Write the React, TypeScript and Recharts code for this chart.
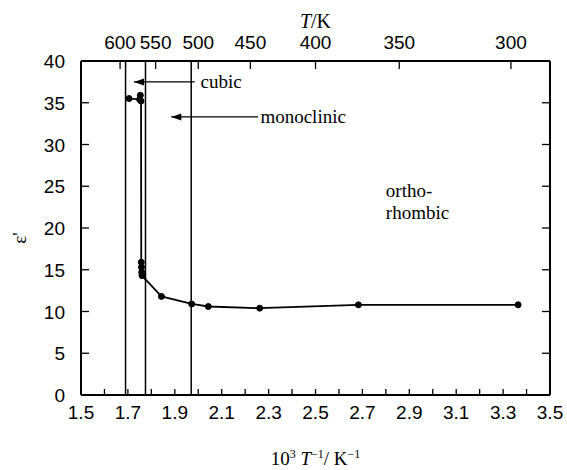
import React from 'react';
import { ComposedChart, Line, XAxis, YAxis, ReferenceLine, ReferenceDot, Label } from 'recharts';

// 10^3 / T values and permittivity
const invT = [1.705, 1.75, 1.753, 1.756, 1.757, 1.758, 1.759, 1.76, 1.843, 1.972, 2.043, 2.262, 2.683, 3.364];
const epsilon = [35.5, 35.4, 35.9, 35.2, 15.9, 15.3, 14.7, 14.3, 11.8, 10.9, 10.6, 10.4, 10.8, 10.8];

const xTicks = [1.5, 1.6, 1.7, 1.8, 1.9, 2.0, 2.1, 2.2, 2.3, 2.4, 2.5, 2.6, 2.7, 2.8, 2.9, 3.0, 3.1, 3.2, 3.3, 3.4, 3.5];
const xLabels = ['1.5', '1.7', '1.9', '2.1', '2.3', '2.5', '2.7', '2.9', '3.1', '3.3', '3.5'];
const yTicks = [0, 5, 10, 15, 20, 25, 30, 35, 40];
const tempLabels = [600, 550, 500, 450, 400, 350, 300];

// phase boundaries (10^3 / T)
const phaseBounds = [1.69, 1.775, 1.97];

// annotation arrows: tail x, head x, level, text
const arrowTail = [1.985, 2.255];
const arrowHead = [1.726, 1.885];
const arrowLevel = [37.5, 33.3];
const arrowText = ['cubic', 'monoclinic'];
const arrowTextX = [2.01, 2.265];

const regionText = ['ortho-', 'rhombic'];
const regionTextX = 2.8;
const regionTextY = [24.5, 21.8];

const data = invT.map((x, i) => ({ x, y: epsilon[i] }));
const topTicks = tempLabels.map((t) => 1000 / t);

const SANS = '"Liberation Sans", Arial, sans-serif';
const SERIF = '"Liberation Serif", "Times New Roman", serif';

const BottomTick = (props: any) => {
  const { x, y, payload } = props;
  const label = xLabels.find((l) => Math.abs(parseFloat(l) - payload.value) < 1e-6);
  return (
    <g>
      <line x1={x} x2={x} y1={y} y2={y - 6} stroke="#000" strokeWidth={1.3} />
      {label && (
        <text x={x} y={y + 24} textAnchor="middle" fontFamily={SANS} fontSize={19} fill="#000">
          {label}
        </text>
      )}
    </g>
  );
};

const TopTick = (props: any) => {
  const { x, y, payload } = props;
  return (
    <g>
      <line x1={x} x2={x} y1={y} y2={y + 8} stroke="#000" strokeWidth={1.3} />
      <text x={x} y={y - 12} textAnchor="middle" fontFamily={SANS} fontSize={19} fill="#000">
        {Math.round(1000 / payload.value)}
      </text>
    </g>
  );
};

const LeftTick = (props: any) => {
  const { x, y, payload } = props;
  return (
    <g>
      <line x1={x} x2={x + 8} y1={y} y2={y} stroke="#000" strokeWidth={1.3} />
      <text x={x - 16} y={y + 7} textAnchor="end" fontFamily={SANS} fontSize={19} fill="#000">
        {payload.value}
      </text>
    </g>
  );
};

const RightTick = (props: any) => {
  const { x, y } = props;
  return <line x1={x} x2={x - 8} y1={y} y2={y} stroke="#000" strokeWidth={1.3} />;
};

const ArrowHead = (props: any) => {
  const { cx, cy } = props;
  return <path d={`M${cx},${cy} l10,-3.5 l0,7 z`} fill="#000" />;
};

const makeText = (text: string) => (props: any) => (
  <text x={props.cx} y={props.cy} dy="0.32em" fontFamily={SERIF} fontSize={19} fill="#000">
    {text}
  </text>
);

const axisLine = { stroke: '#000', strokeWidth: 2 };

export default function App() {
  return (
    <div style={{ position: 'absolute', left: 0, top: 0, width: 567, height: 470, background: '#fff' }}>
      <ComposedChart width={567} height={470} data={data} margin={{ top: 0, right: 0, bottom: 0, left: 0 }}>
        <XAxis
          xAxisId="bottom"
          dataKey="x"
          type="number"
          domain={[1.5, 3.5]}
          ticks={xTicks}
          interval={0}
          height={75}
          tickSize={0}
          tickMargin={0}
          tickLine={false}
          axisLine={axisLine}
          tick={BottomTick}
          allowDataOverflow
        >
          <Label
            content={(p: any) => {
              const vb = p.viewBox;
              return (
                <text x={vb.x + vb.width / 2} y={vb.y + 70} textAnchor="middle" fontFamily={SERIF} fontSize={19} fill="#000">
                  10<tspan dy={-7} fontSize={12}>3</tspan>
                  <tspan dy={7}> </tspan>
                  <tspan fontStyle="italic">T</tspan>
                  <tspan dy={-7} fontSize={12}>−1</tspan>
                  <tspan dy={7}>/ K</tspan>
                  <tspan dy={-7} fontSize={12}>−1</tspan>
                </text>
              );
            }}
          />
        </XAxis>
        <XAxis
          xAxisId="top"
          dataKey="x"
          orientation="top"
          type="number"
          domain={[1.5, 3.5]}
          ticks={topTicks}
          interval={0}
          height={61}
          tickSize={0}
          tickMargin={0}
          tickLine={false}
          axisLine={axisLine}
          tick={TopTick}
          allowDataOverflow
        >
          <Label
            content={(p: any) => {
              const vb = p.viewBox;
              return (
                <text x={vb.x + vb.width / 2} y={28} textAnchor="middle" fontFamily={SERIF} fontSize={20} fill="#000">
                  <tspan fontStyle="italic">T</tspan>/K
                </text>
              );
            }}
          />
        </XAxis>
        <YAxis
          yAxisId="left"
          type="number"
          domain={[0, 40]}
          ticks={yTicks}
          interval={0}
          width={81}
          tickSize={0}
          tickMargin={0}
          tickLine={false}
          axisLine={axisLine}
          tick={LeftTick}
          allowDataOverflow
        >
          <Label
            content={(p: any) => {
              const vb = p.viewBox;
              const cx = 20;
              const cy = vb.y + vb.height / 2 + 10;
              return (
                <text x={cx} y={cy} textAnchor="middle" dy="0.32em" transform={`rotate(-90 ${cx} ${cy})`} fontFamily={SERIF} fontSize={19} fill="#000">
                  ε'
                </text>
              );
            }}
          />
        </YAxis>
        <YAxis
          yAxisId="right"
          orientation="right"
          type="number"
          domain={[0, 40]}
          ticks={yTicks}
          interval={0}
          width={17}
          tickSize={0}
          tickMargin={0}
          tickLine={false}
          axisLine={axisLine}
          tick={RightTick}
          allowDataOverflow
        />

        {phaseBounds.map((v) => (
          <ReferenceLine key={v} xAxisId="bottom" yAxisId="left" x={v} stroke="#000" strokeWidth={1.5} />
        ))}

        {arrowText.map((t, i) => (
          <ReferenceLine
            key={`a${t}`}
            xAxisId="bottom"
            yAxisId="left"
            segment={[
              { x: arrowTail[i], y: arrowLevel[i] },
              { x: arrowHead[i], y: arrowLevel[i] },
            ]}
            stroke="#000"
            strokeWidth={1.3}
          />
        ))}
        {arrowText.map((t, i) => (
          <ReferenceDot key={`h${t}`} xAxisId="bottom" yAxisId="left" x={arrowHead[i]} y={arrowLevel[i]} shape={ArrowHead} />
        ))}
        {arrowText.map((t, i) => (
          <ReferenceDot key={`t${t}`} xAxisId="bottom" yAxisId="left" x={arrowTextX[i]} y={arrowLevel[i]} shape={makeText(t)} />
        ))}
        {regionText.map((t, i) => (
          <ReferenceDot key={`r${t}`} xAxisId="bottom" yAxisId="left" x={regionTextX} y={regionTextY[i]} shape={makeText(t)} />
        ))}

        {/* invisible copy so the top (temperature) axis gets its scale */}
        <Line
          xAxisId="top"
          yAxisId="right"
          dataKey="y"
          stroke="none"
          dot={false}
          activeDot={false}
          legendType="none"
          isAnimationActive={false}
        />
        <Line
          xAxisId="bottom"
          yAxisId="left"
          dataKey="y"
          type="linear"
          stroke="#000"
          strokeWidth={1.8}
          dot={{ r: 3, fill: '#000', stroke: '#000', strokeWidth: 1 }}
          isAnimationActive={false}
        />
      </ComposedChart>
    </div>
  );
}
